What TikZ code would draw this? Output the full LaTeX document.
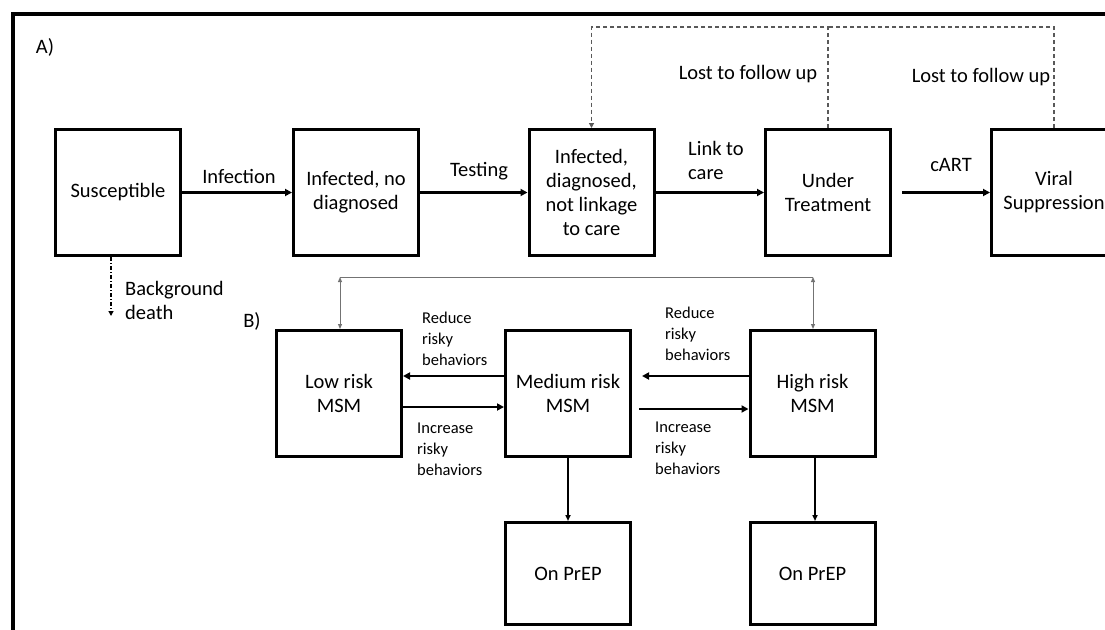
\documentclass[tikz,border=0pt]{standalone}
\usepackage{fontspec}
\setmainfont{Carlito}
\usepackage{xcolor}
\usetikzlibrary{arrows.meta}

\begin{document}
\begin{tikzpicture}[x=1pt,y=-1pt,
    font=\fontsize{20.5}{24}\selectfont,
    box/.style={draw, line width=3pt, minimum width=125pt, minimum height=126pt, align=center},
    prepbox/.style={box, minimum height=102pt},
    flow/.style={line width=2.4pt, -{Triangle[length=7pt,width=7pt]}},
    thinflow/.style={line width=1.5pt, -{Triangle[length=6pt,width=5pt]}},
    lost/.style={draw=black!65, line width=1.3pt, dash pattern=on 4pt off 3pt},
    mixing/.style={draw=black!55, line width=1pt},
    lbl/.style={inner sep=0pt, align=left, anchor=west},
    smalllbl/.style={lbl, font=\fontsize{16.5}{21}\selectfont}]
    \useasboundingbox (0,0) rectangle (1105,629);
    \clip (0,0) rectangle (1105,629);
    % outer frame
    \draw[line width=3.5pt] (1120,14) -- (13,14) -- (13,640);
    \node (pa) at (45,47) {A)};
    \node (pb) at (252,321) {B)};

    % A) cascade of care
    \node[box] (sus)   at (118,192.5)  {Susceptible};
    \node[box] (inf)   at (356,192.5)  {Infected, no\\diagnosed};
    \node[box] (diag)  at (591.5,192.5) {Infected,\\diagnosed,\\not linkage\\to care};
    \node[box] (treat) at (828,192.5)  {Under\\Treatment};
    \node[box] (viral) at (1054,192.5) {Viral\\Suppression};

    \draw[flow] (sus) -- (inf);
    \draw[flow] (inf) -- (diag);
    \draw[flow] (diag) -- (treat);
    \draw[flow, shorten <=10pt] (treat) -- (viral);
    \node (lblinf)  at (239,176) {Infection};
    \node (lbltest) at (479,171) {Testing};
    \node[lbl] (lbllink) at (688,160) {Link to\\care};
    \node (lblcart) at (951,165) {cART};

    % lost to follow up
    \coordinate (ltop) at (828,27);
    \draw[lost, -{Triangle[length=5pt,width=5pt]}] (treat.north) -- (ltop) -| (diag.north);
    \draw[lost] (viral.north) |- (ltop);
    \node (lbllost1) at (748,74) {Lost to follow up};
    \node (lbllost2) at (981,77) {Lost to follow up};

    % background death
    \coordinate (dead) at (111,316);
    \draw[line width=1.2pt, dash pattern=on 4pt off 2pt on 1pt off 2pt, -{Triangle[length=5pt,width=5pt]}]
        (sus.south -| dead) -- (dead);
    \node[lbl] (lbldead) at (125,300) {Background\\death};

    % B) risk groups
    \node[box] (low)  at (339,393.5)   {Low risk\\MSM};
    \node[box] (med)  at (568,393.5)   {Medium risk\\MSM};
    \node[box] (high) at (812.5,393.5) {High risk\\MSM};
    \node[prepbox] (prepm) at (568,573.5)   {On PrEP};
    \node[prepbox] (preph) at (812.5,573.5) {On PrEP};

    \draw[flow] (med.west |- 0,376) -- (low.east |- 0,376);
    \draw[flow] (low.east |- 0,407) -- (med.west |- 0,407);
    \draw[flow, shorten >=10pt] (high.west |- 0,376) -- (med.east |- 0,376);
    \draw[flow, shorten <=7pt] (med.east |- 0,409) -- (high.west |- 0,409);
    \node[smalllbl] (lblred1) at (422,339) {Reduce\\risky\\behaviors};
    \node[smalllbl] (lblinc1) at (417,449) {Increase\\risky\\behaviors};
    \node[smalllbl] (lblred2) at (665,334) {Reduce\\risky\\behaviors};
    \node[smalllbl] (lblinc2) at (655,448) {Increase\\risky\\behaviors};

    \draw[thinflow] (med) -- (prepm);
    \draw[thinflow] (high.south -| 815,0) -- (preph.north -| 815,0);

    % mixing between low and high risk
    \coordinate (gl) at (340,277);
    \coordinate (gh) at (813,277);
    \draw[mixing, {Triangle[length=5pt,width=4pt]}-{Triangle[length=5pt,width=4pt]}] (gl) -- (low.north -| gl);
    \draw[mixing, {Triangle[length=5pt,width=4pt]}-{Triangle[length=5pt,width=4pt]}] (gh) -- (high.north -| gh);
    \draw[mixing] (gl) -- (gh);
\end{tikzpicture}
\end{document}
